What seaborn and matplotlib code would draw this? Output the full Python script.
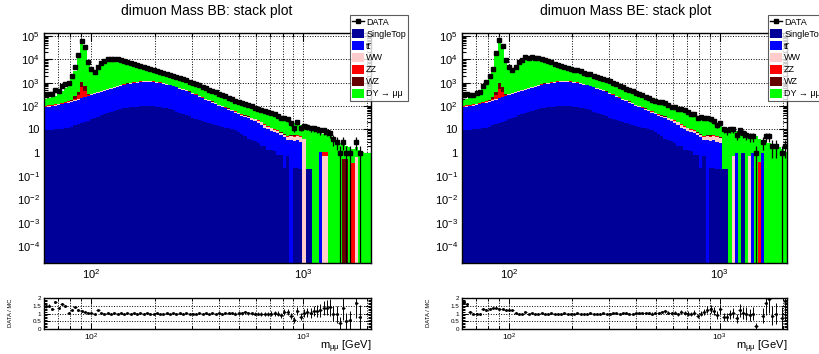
import numpy as np
import pandas as pd
import matplotlib
matplotlib.use('Agg')
import matplotlib.pyplot as plt
import seaborn as sns
from matplotlib.ticker import LogLocator, FuncFormatter, MultipleLocator, NullFormatter
from matplotlib.patches import Patch
from matplotlib.lines import Line2D

plt.rcParams['font.family'] = ['Liberation Sans', 'DejaVu Sans']
plt.rcParams['mathtext.fontset'] = 'custom'
plt.rcParams['mathtext.rm'] = 'Liberation Sans'
plt.rcParams['mathtext.it'] = 'Liberation Sans:italic'
plt.rcParams['mathtext.bf'] = 'Liberation Sans:bold'
plt.rcParams['mathtext.sf'] = 'Liberation Sans'

# ---------------- binning / categories ----------------
mass_lo, mass_hi, n_bins = 60.0, 2090.0, 100
processes = ['SingleTop', 'tt', 'WW', 'ZZ', 'WZ', 'DY']
proc_labels = ['SingleTop', 'tt\u0304', 'WW', 'ZZ', 'WZ', 'DY → μμ']
proc_colors = ['#000099', '#0000ff', '#ffcccc', '#ff0000', '#660000', '#00ff00']

# ---------------- BB ----------------
bb_singletop = [9, 9, 9.5, 10, 10, 10.5, 11, 12, 13, 15,
                17, 19, 21, 24, 27, 31, 35, 40, 45, 51,
                57, 63, 69, 75, 80, 85, 89, 92, 95, 97,
                99, 100, 99, 97, 94, 90, 85, 79, 72, 65,
                58, 52, 46, 41, 36, 32, 29, 26, 23, 21,
                19, 17, 15.5, 14, 13, 12, 11, 10, 9, 8,
                6.5, 5, 4, 3.4, 3.2, 2.6, 1.9, 1.9, 1.35, 1.35,
                1.15, 0.82, 0.82, 0.22, 0.75, 0, 0.22, 0.22, 0.2, 0,
                0.2, 0.2, 0, 0, 0, 0, 0, 0, 0, 0,
                0, 0, 0, 0, 0, 0, 0, 0, 0, 0]
bb_ttbar = [81, 86, 90.5, 95, 102, 109.5, 119, 130, 142, 155,
            173, 196, 219, 246, 273, 304, 340, 375, 415, 459,
            508, 557, 611, 665, 720, 775, 831, 878, 925, 963,
            991, 1000, 991, 963, 926, 880, 825, 761, 698, 635,
            572, 508, 454, 399, 354, 308, 266, 229, 197, 169,
            146, 125, 106.5, 91, 79, 68, 59, 50, 43, 37,
            32.5, 29, 26, 22.6, 19.8, 16.4, 13.1, 10.1, 8.65, 7.15,
            6.35, 6.2, 4.7, 4.3, 2.85, 3.6, 3.0, 3.4, 2.8, 0,
            0, 0, 0, 0, 1.08, 0, 0, 0, 0, 0,
            0, 0, 0, 0, 0, 0, 0, 0, 0, 0]
bb_ww = [4, 4, 5, 5, 5, 6, 6, 7, 8, 9,
         10, 11, 12, 13, 15, 16, 18, 20, 22, 25,
         28, 31, 34, 37, 40, 43, 46, 49, 51, 53,
         55, 55, 55, 54, 52, 50, 47, 44, 41, 37,
         34, 31, 28, 25, 22, 19, 17, 15, 13, 11,
         10, 9, 8, 7, 6.5, 6, 5.5, 5, 4.8, 4.5,
         4.2, 4, 4, 4, 4, 4.5, 5, 4, 3, 2.5,
         2, 1.5, 1.2, 1, 1.2, 1.4, 1.6, 1.5, 1.6, 4,
         0, 0, 0, 0, 0, 0.7, 0.7, 0, 0, 0,
         0, 0, 0, 0, 0, 0.65, 0, 0, 0, 0]
bb_zz = [7, 7, 8, 8, 9, 10, 11, 14, 10, 30,
         100, 420, 170, 20, 8, 9, 10, 11, 12, 13,
         14, 15, 16, 17, 18, 19, 20, 20, 21, 21,
         21, 21, 20, 20, 19, 18, 17, 16, 15, 14,
         13, 12, 11, 10, 9, 8, 7, 6.5, 6, 5.5,
         5, 4.5, 4, 3.5, 3, 2.8, 2.5, 2.2, 2, 1.8,
         1.6, 1.5, 1.4, 1.3, 1.2, 1.1, 1, 1, 0.9, 0.8,
         0.7, 0.6, 0.5, 0.5, 0.4, 0.4, 0.5, 0.5, 0.4, 0,
         0, 0, 0, 0, 0, 0.35, 0.35, 0, 0, 0,
         0, 0, 0, 0, 0.37, 0, 0, 0, 0, 0]
bb_wz = [2, 2, 2, 2, 2, 2, 3, 3, 5, 50,
         120, 450, 280, 15, 4, 3, 4, 4, 5, 5,
         6, 6, 7, 7, 8, 9, 9, 10, 10, 11,
         11, 11, 11, 11, 10, 10, 9, 8, 8, 7,
         6, 6, 5, 5, 4, 4, 3, 3, 2.5, 2.2,
         2, 1.8, 1.5, 1.3, 1.1, 1, 0.9, 0.8, 0.7, 0.6,
         0.5, 0.5, 0.45, 0.4, 0.4, 0.35, 0.3, 0.3, 0.3, 0.25,
         0.25, 0.2, 0.2, 0.2, 0.2, 0.2, 0.2, 0.2, 0.2, 0,
         0, 0, 0, 0, 0, 0, 0, 0, 0, 0,
         0, 0.54, 0.54, 0, 0, 0, 0, 0, 0, 0]
bb_dy = [107, 117, 130, 160, 212, 292, 450, 734, 1422, 3041,
         12580, 50904, 30298, 6882, 3473, 2437, 3693, 6350, 8301, 9447,
         10187, 10128, 9663, 8899, 7934, 6969, 6105, 5351, 4598, 3955,
         3423, 2913, 2524, 2255, 2049, 1852, 1667, 1492, 1316, 1192,
         1067, 971, 876, 790, 695, 629, 558, 500, 438, 381,
         328, 288, 254, 223, 192, 168, 146, 129, 112, 100,
         90, 80, 71, 64, 57, 52, 48, 45, 42, 38,
         33.5, 29.7, 26.6, 22.8, 19.6, 15.4, 13.5, 11.2, 9.8, 9.5,
         11.8, 10.3, 9.5, 8.5, 6.4, 5.55, 4.75, 5, 4, 3.2,
         2.5, 1.66, 1.36, 1.7, 1.13, 1.15, 1.3, 1.1, 1.0, 1.0]
bb_data = [305, 338, 320, 490, 460, 690, 900, 945, 2000, 4790,
           15600, 59800, 34100, 7560, 3990, 2800, 4920, 6940, 8800, 10100,
           10700, 10900, 10300, 9800, 8700, 8000, 7050, 6420, 5680, 5130,
           4560, 4120, 3690, 3400, 3170, 2880, 2640, 2410, 2140, 1960,
           1740, 1590, 1410, 1280, 1110, 1000, 875, 785, 675, 590,
           505, 448, 386, 342, 290, 260, 228, 203, 170, 153,
           137, 128, 107, 98, 85, 76, 68, 62, 55, 50,
           44, 39, 30, 32, 27, 18, 11, 20, 12, 14,
           13, 11, 11, 10, 9, 9, 8, 7, 4, 3,
           1, 3, 1, 1, 0, 3, 1, 0, 0, 0]

# ---------------- BE ----------------
be_singletop = [9, 9, 9.5, 10, 10, 10.5, 11, 12, 13, 15,
                17, 19, 21, 24, 27, 31, 35, 40, 45, 51,
                57, 63, 69, 75, 80, 85, 89, 92, 95, 97,
                99, 100, 99, 97, 94, 90, 85, 79, 72, 65,
                58, 52, 46, 41, 36, 32, 29, 26, 23, 21,
                19, 17, 15.5, 14, 13, 12, 11, 10, 9, 8,
                6.5, 5, 4, 3.4, 3.2, 2.6, 1.9, 1.9, 1.35, 1.35,
                1.15, 0.82, 0.82, 0.22, 0.75, 0, 0.22, 0.22, 0.2, 0.2,
                0.2, 0.2, 0, 0, 0, 0, 1.0, 0, 0, 0,
                0, 0, 0, 0, 0, 0, 0, 0, 0, 0]
be_ttbar = [81, 86, 90.5, 95, 102, 109.5, 119, 130, 142, 155,
            173, 196, 219, 246, 273, 304, 340, 375, 415, 459,
            508, 557, 611, 665, 720, 775, 831, 878, 925, 963,
            991, 1000, 991, 963, 926, 880, 825, 761, 698, 635,
            572, 508, 454, 399, 354, 308, 266, 229, 197, 169,
            146, 125, 106.5, 91, 79, 68, 59, 50, 43, 37,
            32.5, 29, 26, 22.6, 19.8, 16.4, 13.1, 10.1, 8.65, 7.15,
            6.35, 6.2, 4.7, 4.3, 2.85, 3.6, 3.0, 3.4, 2.8, 2.5,
            0, 0, 0, 0, 1.0, 0, 0, 0, 0, 1.0,
            0, 0, 1.0, 0, 0, 0, 0, 0, 0, 0]
be_ww = [4, 4, 5, 5, 5, 6, 6, 7, 8, 9,
         10, 11, 12, 13, 15, 16, 18, 20, 22, 25,
         28, 31, 34, 37, 40, 43, 46, 49, 51, 53,
         55, 55, 55, 54, 52, 50, 47, 44, 41, 37,
         34, 31, 28, 25, 22, 19, 17, 15, 13, 11,
         10, 9, 8, 7, 6.5, 6, 5.5, 5, 4.8, 4.5,
         4.2, 4, 4, 4, 4, 4.5, 5, 4, 3, 2.5,
         2, 1.5, 1.2, 1, 1.2, 1.4, 1.6, 1.5, 1.6, 1.4,
         0, 0, 0, 0.7, 0, 0, 0, 0, 0.7, 0,
         0, 0, 0, 0, 0, 0, 0, 0, 0, 0]
be_zz = [7, 7, 8, 8, 9, 10, 11, 14, 10, 25,
         90, 300, 150, 20, 8, 9, 10, 11, 12, 13,
         14, 15, 16, 17, 18, 19, 20, 20, 21, 21,
         21, 21, 20, 20, 19, 18, 17, 16, 15, 14,
         13, 12, 11, 10, 9, 8, 7, 6.5, 6, 5.5,
         5, 4.5, 4, 3.5, 3, 2.8, 2.5, 2.2, 2, 1.8,
         1.6, 1.5, 1.4, 1.3, 1.2, 1.1, 1, 1, 0.9, 0.8,
         0.7, 0.6, 0.5, 0.5, 0.4, 0.4, 0.5, 0.5, 0.4, 0.4,
         0, 0, 0, 0, 0, 0, 0, 0, 0, 0,
         0, 0.4, 0, 0, 0, 0, 0, 0, 0, 0]
be_wz = [2, 2, 2, 2, 2, 2, 3, 3, 5, 40,
         100, 420, 250, 15, 4, 3, 4, 4, 5, 5,
         6, 6, 7, 7, 8, 9, 9, 10, 10, 11,
         11, 11, 11, 11, 10, 10, 9, 8, 8, 7,
         6, 6, 5, 5, 4, 4, 3, 3, 2.5, 2.2,
         2, 1.8, 1.5, 1.3, 1.1, 1, 0.9, 0.8, 0.7, 0.6,
         0.5, 0.5, 0.45, 0.4, 0.4, 0.35, 0.3, 0.3, 0.3, 0.25,
         0.25, 0.2, 0.2, 0.2, 0.2, 0.2, 0.2, 0.2, 0.2, 0.2,
         0, 0, 0, 0, 0, 0, 0, 0, 0, 0,
         0, 0, 0, 0, 0, 0, 0, 0, 0, 0]
be_dy = [72, 92, 145, 180, 222, 302, 430, 684, 1322, 2756,
         13110, 51054, 29348, 7182, 3373, 2437, 3893, 7150, 9501, 10947,
         11687, 11728, 11263, 10399, 9334, 8169, 7205, 6351, 5498, 4755,
         4123, 3563, 3124, 2805, 2549, 2302, 2067, 1842, 1636, 1482,
         1327, 1211, 1086, 980, 865, 779, 648, 580, 508, 441,
         378, 333, 294, 257, 222, 194, 169, 149, 129.5, 115,
         104, 92, 82, 74, 66, 60, 55, 51, 48, 43,
         37.5, 33.7, 30.6, 26.8, 22.6, 18.4, 15.5, 12.7, 11.3, 10.3,
         12.8, 11.3, 10.5, 8.8, 7.5, 7.5, 5.8, 6, 4.8, 4,
         5, 3.6, 2.5, 3, 2.6, 2.3, 2, 1.7, 1.4, 1.1]
be_data = [306, 320, 286, 300, 350, 418, 754, 1063, 1950, 4050,
           18200, 67600, 39000, 9000, 4630, 3360, 4520, 7600, 9800, 12650,
           11930, 12520, 11880, 11200, 10300, 9010, 8200, 7470, 6600, 5840,
           5300, 4800, 4300, 3910, 3650, 3380, 3050, 2700, 2470, 2260,
           2010, 1800, 1630, 1475, 1290, 1140, 980, 860, 735, 650,
           566, 490, 426, 378, 325, 290, 248, 224, 189, 170,
           153, 145, 136, 111, 95, 89, 72, 75, 65, 55,
           46, 45, 32, 33, 31, 30, 27, 22, 15, 19,
           10, 9, 10, 10, 6, 9, 7, 6, 5, 5,
           1, 0, 3, 5, 5, 2, 2, 0, 1, 2]

W, H = 820, 354
fig = plt.figure(figsize=(W / 100, H / 100), dpi=100)


def rect(l, t, r, b):
    return [l / W, 1 - b / H, (r - l) / W, (b - t) / H]


def yfmt(v, pos):
    e = int(round(np.log10(v)))
    if e == 0:
        return '1'
    if e == 1:
        return '10'
    return r'$\mathrm{10^{%d}}$' % e


def xfmt(v, pos):
    e = int(round(np.log10(v)))
    return r'$\mathrm{10^{%d}}$' % e


panels = [
    dict(title='dimuon Mass BB: stack plot',
         comps=[bb_singletop, bb_ttbar, bb_ww, bb_zz, bb_wz, bb_dy],
         data=bb_data, left=44, right=371, title_x=207, leg_x=350),
    dict(title='dimuon Mass BE: stack plot',
         comps=[be_singletop, be_ttbar, be_ww, be_zz, be_wz, be_dy],
         data=be_data, left=462, right=787, title_x=626, leg_x=768),
]

edges = np.logspace(np.log10(mass_lo), np.log10(mass_hi), n_bins + 1)
centers = np.sqrt(edges[:-1] * edges[1:])
xerr = [centers - edges[:-1], edges[1:] - centers]
palette = dict(zip(processes, proc_colors))

for p in panels:
    ax = fig.add_axes(rect(p['left'], 33, p['right'], 263))
    df = pd.DataFrame({
        'mass': np.tile(centers, len(processes)),
        'w': np.concatenate([np.asarray(c, float) for c in p['comps']]),
        'proc': np.repeat(processes, n_bins),
    })
    ax.set_axisbelow(True)
    # seaborn puts the last hue level at the bottom of the stack
    sns.histplot(df, x='mass', weights='w', hue='proc', hue_order=processes[::-1],
                 palette=palette, bins=n_bins,
                 binrange=(np.log10(mass_lo), np.log10(mass_hi)),
                 log_scale=(True, False), multiple='stack', element='step',
                 fill=True, alpha=1, linewidth=0, legend=False, ax=ax)
    ax.set_yscale('log')
    data = np.asarray(p['data'], float)
    m = data > 0
    ax.errorbar(centers[m], data[m], yerr=np.sqrt(data[m]),
                xerr=[xerr[0][m], xerr[1][m]], fmt='s', ms=2.4, color='k',
                elinewidth=0.9, capsize=0, zorder=5)
    ax.set_xlim(mass_lo, mass_hi)
    ax.set_ylim(1.9e-5, 1.35e5)
    ax.set_xlabel('')
    ax.set_ylabel('')
    ax.yaxis.set_major_locator(LogLocator(base=10, numticks=20))
    ax.yaxis.set_minor_locator(LogLocator(base=10, subs=np.arange(2, 10), numticks=20))
    ax.yaxis.set_major_formatter(FuncFormatter(yfmt))
    ax.yaxis.set_minor_formatter(NullFormatter())
    ax.xaxis.set_major_locator(LogLocator(base=10, numticks=10))
    ax.xaxis.set_minor_locator(LogLocator(base=10, subs=np.arange(2, 10), numticks=10))
    ax.xaxis.set_major_formatter(FuncFormatter(xfmt))
    ax.xaxis.set_minor_formatter(NullFormatter())
    ax.grid(True, which='major', axis='y', ls=':', lw=0.7, color='k')
    ax.grid(True, which='both', axis='x', ls=':', lw=0.7, color='k')
    ax.tick_params(which='both', direction='in', top=True, right=True,
                   labelsize=8, width=0.8)
    ax.tick_params(which='major', length=6, pad=3)
    ax.tick_params(which='minor', length=3)
    for s in ax.spines.values():
        s.set_linewidth(1.0)

    fig.text(p['title_x'] / W, 1 - 11 / H, p['title'], ha='center',
             va='center', fontsize=10)

    # ratio panel
    mc = np.sum([np.asarray(c, float) for c in p['comps']], axis=0)
    rax = fig.add_axes(rect(p['left'], 298, p['right'], 329))
    rax.set_axisbelow(True)
    mr = (data > 0) & (mc > 0)
    ratio = data[mr] / mc[mr]
    rerr = np.sqrt(data[mr]) / mc[mr]
    rax.errorbar(centers[mr], ratio, yerr=rerr,
                 xerr=[xerr[0][mr], xerr[1][mr]], fmt='s', ms=1.0,
                 color='k', elinewidth=0.7, capsize=0)
    rax.set_xscale('log')
    rax.set_xlim(mass_lo, mass_hi)
    rax.set_ylim(0, 2)
    rax.yaxis.set_major_locator(MultipleLocator(0.5))
    rax.yaxis.set_minor_locator(MultipleLocator(0.1))
    rax.yaxis.set_major_formatter(FuncFormatter(lambda v, pos: '%g' % v))
    rax.xaxis.set_major_locator(LogLocator(base=10, numticks=10))
    rax.xaxis.set_minor_locator(LogLocator(base=10, subs=np.arange(2, 10), numticks=10))
    rax.xaxis.set_major_formatter(FuncFormatter(xfmt))
    rax.xaxis.set_minor_formatter(NullFormatter())
    rax.grid(True, which='major', axis='y', ls=':', lw=0.7, color='k')
    rax.grid(True, which='both', axis='x', ls=':', lw=0.7, color='k')
    rax.tick_params(which='both', direction='in', top=True, right=True,
                    width=0.7, pad=2)
    rax.tick_params(axis='y', labelsize=4.5)
    rax.tick_params(axis='x', labelsize=6)
    rax.tick_params(which='major', length=4)
    rax.tick_params(which='minor', length=2)
    for s in rax.spines.values():
        s.set_linewidth(1.0)
    fig.text((p['left'] - 33) / W, 1 - 313 / H, 'DATA / MC', rotation=90,
             ha='center', va='center', fontsize=4.2)
    fig.text(p['right'] / W, 1 - 347 / H, r'm$_{\mathrm{μμ}}$ [GeV]',
             ha='right', va='center', fontsize=8)

    handles = [Line2D([], [], color='k', marker='s', ms=3, lw=1)]
    handles += [Patch(facecolor=c, edgecolor='none') for c in proc_colors]
    labels = ['DATA'] + proc_labels
    leg = fig.legend(handles, labels, loc='upper left',
                     bbox_to_anchor=(p['leg_x'] / W, 1 - 15 / H),
                     fontsize=6.5, frameon=True, fancybox=False,
                     handlelength=1.3, handleheight=1.1, handletextpad=0.25,
                     labelspacing=0.28, borderpad=0.25, borderaxespad=0)
    leg.get_frame().set_edgecolor('#333333')
    leg.get_frame().set_linewidth(0.8)

fig.savefig('out.png', dpi=100)
